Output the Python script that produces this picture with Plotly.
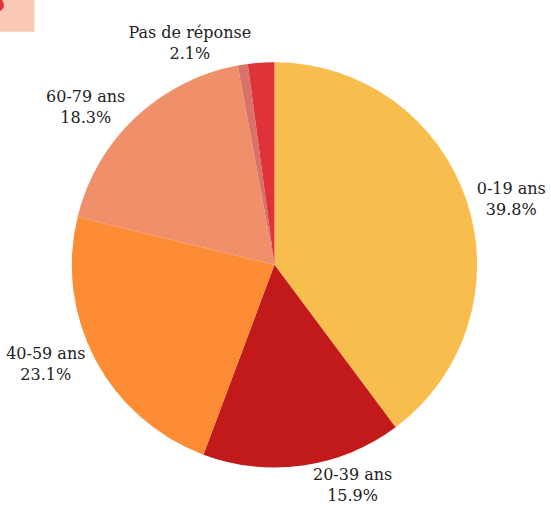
import plotly.graph_objects as go

labels = ["0-19 ans", "20-39 ans", "40-59 ans", "60-79 ans", "80 ans et plus", "Pas de réponse"]
values = [39.8, 15.9, 23.1, 18.3, 0.8, 2.1]
colors = ["#F7BE4E", "#C21A1B", "#FD8C35", "#F0906A", "#D8736A", "#E03339"]
show_label = [True, True, True, True, False, True]

W, H = 551, 513
cx, cy, r = 279, 268, 206
FONT = "DejaVu Serif, serif"

texts = [f"{l}<br>{v:.1f}%" if s else "" for l, v, s in zip(labels, values, show_label)]

fig = go.Figure(go.Pie(
    labels=labels,
    values=values,
    text=texts,
    textinfo="text",
    textposition="outside",
    sort=False,
    direction="clockwise",
    rotation=0,
    marker=dict(colors=colors, line=dict(width=0)),
    outsidetextfont=dict(family=FONT, size=16, color="#222222"),
    domain=dict(x=[(cx - r) / W, (cx + r) / W], y=[(H - cy - r) / H, (H - cy + r) / H]),
    showlegend=False,
    hoverinfo="label+percent",
))

fig.update_layout(
    width=W, height=H,
    margin=dict(l=0, r=0, t=0, b=0),
    paper_bgcolor="white",
    plot_bgcolor="white",
    font=dict(family=FONT),
    shapes=[
        dict(type="rect", xref="paper", yref="paper", x0=0, x1=35 / W, y0=1 - 32 / H, y1=1,
             fillcolor="#F9C9B5", line=dict(width=0), layer="below"),
        dict(type="circle", xref="paper", yref="paper", x0=-10 / W, x1=4 / W, y0=1 - 12 / H, y1=1 + 2 / H,
             fillcolor="#E03339", line=dict(width=0)),
    ],
)

fig.write_html("out.html", config={"displayModeBar": False},
               post_script="document.body.style.margin='0';document.body.style.overflow='hidden';")
